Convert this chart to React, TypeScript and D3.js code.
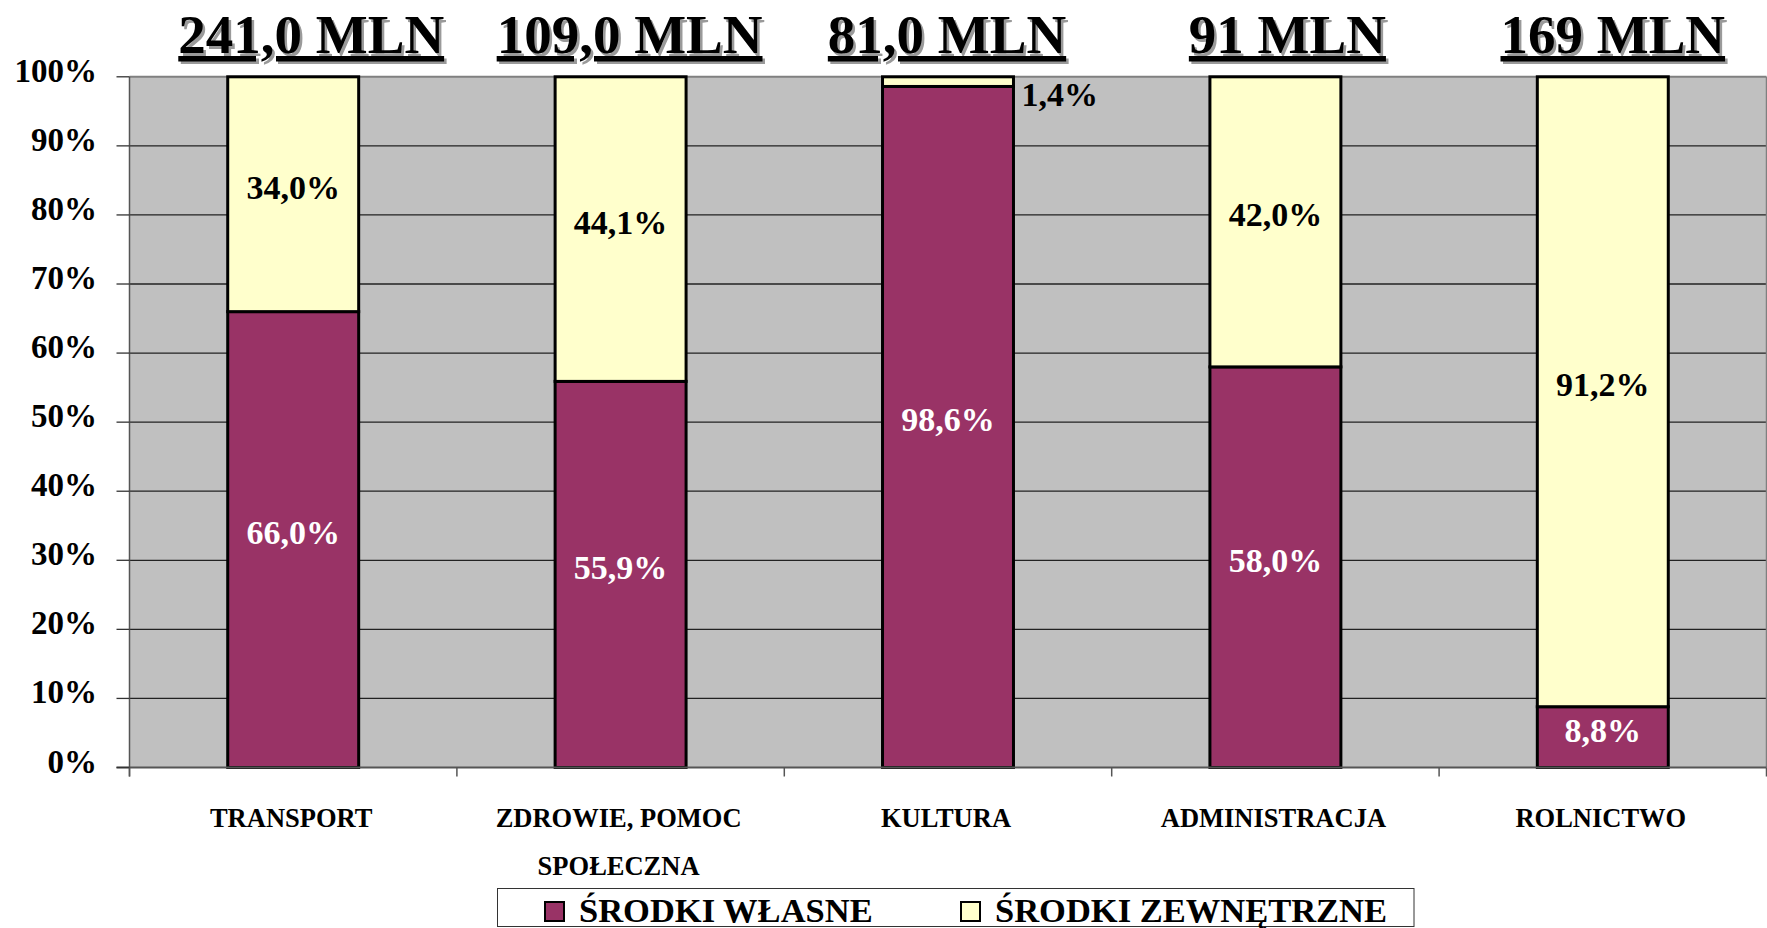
import React from "react";
import * as d3 from "d3";

const categories = ["TRANSPORT", "ZDROWIE, POMOC\nSPOŁECZNA", "KULTURA", "ADMINISTRACJA", "ROLNICTWO"];
const totals = ["241,0 MLN", "109,0 MLN", "81,0 MLN", "91 MLN", "169 MLN"];
const ownFunds = [66.0, 55.9, 98.6, 58.0, 8.8];
const externalFunds = [34.0, 44.1, 1.4, 42.0, 91.2];
const seriesNames = ["ŚRODKI WŁASNE", "ŚRODKI ZEWNĘTRZNE"];
const yTicks = [0, 10, 20, 30, 40, 50, 60, 70, 80, 90, 100];

const W = 1767;
const H = 928;
const M = { left: 129.5, right: 1766.5, top: 76.8, bottom: 767.5 };
const COLORS = ["#993366", "#FFFFCC"];
const TITLE_SHIFT = [18, 9, -1, 12, 10];
const FONT = "'Liberation Serif', 'Times New Roman', serif";

const fmt = (v: number) => v.toFixed(1).replace(".", ",") + "%";

export default function App() {
  const x = d3.scaleBand<string>().domain(categories).range([M.left, M.right]).padding(0);
  const y = d3.scaleLinear().domain([0, 100]).range([M.bottom, M.top]);
  const barW = x.bandwidth() * 0.4;

  const rows = categories.map((c, i) => ({ cat: c, own: ownFunds[i], ext: externalFunds[i] }));
  const stack = d3.stack<any>().keys(["own", "ext"]);
  const series = stack(rows);

  const boundaries = d3.range(categories.length + 1).map((i) => M.left + i * x.step());

  return (
    <svg
      width={W}
      height={H}
      style={{ position: "fixed", left: 0, top: 0, background: "#fff" }}
      fontFamily={FONT}
    >
      {/* plot background */}
      <rect x={M.left} y={M.top} width={M.right - M.left} height={M.bottom - M.top} fill="#C0C0C0" />
      {/* gridlines */}
      {yTicks.filter((t) => t > 0 && t < 100).map((t) => (
        <line key={t} x1={M.left} x2={M.right} y1={y(t)} y2={y(t)} stroke="#222" strokeWidth={1.3} />
      ))}
      <line x1={M.left} x2={M.right} y1={y(100)} y2={y(100)} stroke="#808080" strokeWidth={2} />
      <line x1={M.right} x2={M.right} y1={M.top} y2={M.bottom} stroke="#808080" strokeWidth={1.5} />
      {/* bars */}
      {series.map((s, si) =>
        s.map((d, i) => {
          const cx = (x(categories[i]) as number) + x.bandwidth() / 2;
          return (
            <rect
              key={si + "-" + i}
              x={cx - barW / 2}
              y={y(d[1])}
              width={barW}
              height={y(d[0]) - y(d[1])}
              fill={COLORS[si]}
              stroke="#000"
              strokeWidth={3}
            />
          );
        })
      )}
      {/* axes */}
      <line x1={M.left} x2={M.left} y1={M.top} y2={M.bottom + 9} stroke="#555" strokeWidth={1.5} />
      <line x1={M.left - 13} x2={M.right} y1={M.bottom} y2={M.bottom} stroke="#555" strokeWidth={2} />
      {yTicks.map((t) => (
        <g key={"yt" + t}>
          <line x1={M.left - 13} x2={M.left} y1={y(t)} y2={y(t)} stroke="#333" strokeWidth={1.3} />
          <text x={97} y={y(t) + 5} textAnchor="end" fontSize={33} fontWeight="bold" fill="#000">
            {t}%
          </text>
        </g>
      ))}
      {boundaries.map((bx, i) => (
        <line key={"xt" + i} x1={bx} x2={bx} y1={M.bottom} y2={M.bottom + 9} stroke="#555" strokeWidth={1.5} />
      ))}
      {/* data labels */}
      {series.map((s, si) =>
        s.map((d, i) => {
          const v = d[1] - d[0];
          const cx = (x(categories[i]) as number) + x.bandwidth() / 2;
          const mid = (y(d[0]) + y(d[1])) / 2;
          if (v < 5) {
            return (
              <text key={"l" + si + i} x={cx + barW / 2 + 8} y={mid + 24} fontSize={34} fontWeight="bold" fill="#000">
                {fmt(v)}
              </text>
            );
          }
          return (
            <text
              key={"l" + si + i}
              x={cx}
              y={mid + 4.5}
              textAnchor="middle"
              fontSize={34}
              fontWeight="bold"
              fill={si === 0 ? "#fff" : "#000"}
            >
              {fmt(v)}
            </text>
          );
        })
      )}
      {/* category labels */}
      {categories.map((c, i) => {
        const cx = (x(c) as number) + x.bandwidth() / 2;
        return (
          <text key={"c" + i} textAnchor="middle" fontSize={26.5} fontWeight="bold" fill="#000">
            {c.split("\n").map((ln, li) => (
              <tspan key={li} x={cx - 2} y={M.bottom + 59 + li * 48}>
                {ln}
              </tspan>
            ))}
          </text>
        );
      })}
      {/* totals titles */}
      {totals.map((t, i) => {
        const cx = (x(categories[i]) as number) + x.bandwidth() / 2 + TITLE_SHIFT[i];
        return (
          <g key={"t" + i}>
            <text x={cx + 2.5} y={55.5} textAnchor="middle" fontSize={55} fontWeight="bold" fill="#9a9a9a" textDecoration="underline">
              {t}
            </text>
            <text x={cx} y={53} textAnchor="middle" fontSize={55} fontWeight="bold" fill="#000" textDecoration="underline">
              {t}
            </text>
          </g>
        );
      })}
      {/* legend */}
      <rect x={497.5} y={888.5} width={916.5} height={38} fill="#fff" stroke="#333" strokeWidth={1} />
      {seriesNames.map((n, i) => {
        const lx = i === 0 ? 545 : 961;
        return (
          <g key={"lg" + i}>
            <rect x={lx} y={902} width={19} height={19} fill={COLORS[i]} stroke="#000" strokeWidth={2} />
            <text x={lx + 34} y={922} fontSize={34.5} fontWeight="bold" fill="#000">
              {n}
            </text>
          </g>
        );
      })}
    </svg>
  );
}
